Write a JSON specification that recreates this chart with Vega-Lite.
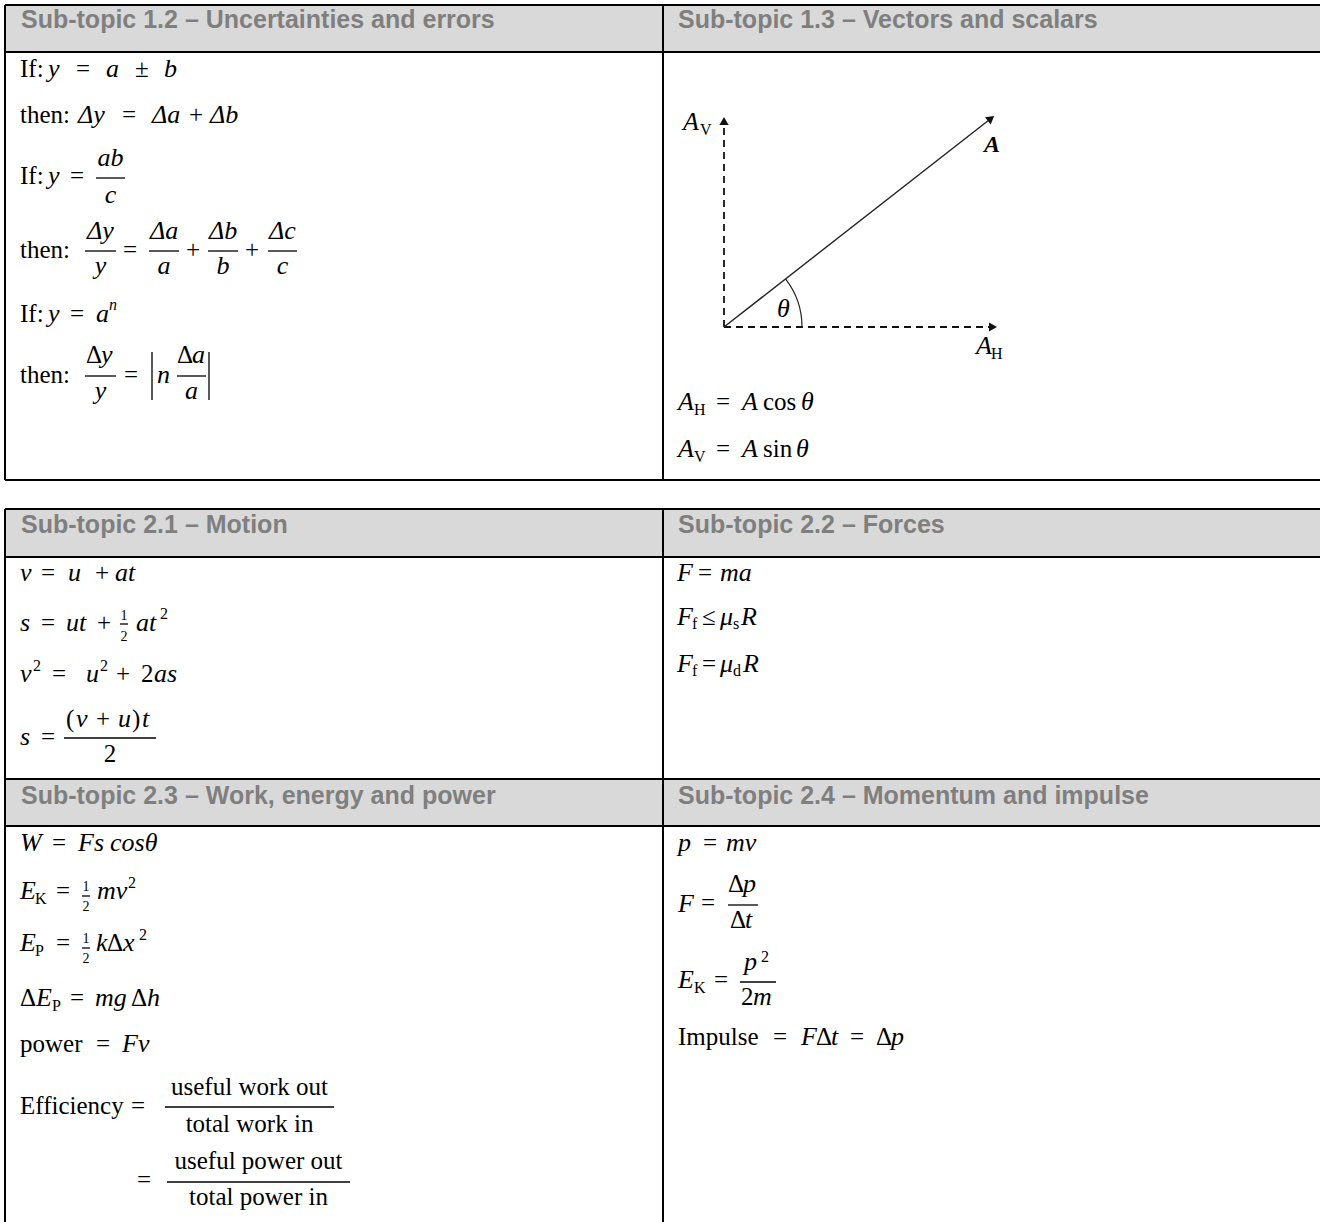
{
  "$schema": "https://vega.github.io/schema/vega-lite/v6.json",
  "width": 1320,
  "height": 1222,
  "autosize": {"type": "none"},
  "padding": 0,
  "background": "white",
  "config": {"view": {"stroke": null}},
  "datasets": {
    "cells": [
      {"x": 5, "x2": 1320, "y": 5, "y2": 52},
      {"x": 5, "x2": 1320, "y": 509, "y2": 557},
      {"x": 5, "x2": 1320, "y": 779, "y2": 826}
    ],
    "borders": [
      {"x": 5, "y": 5, "x2": 1320, "y2": 5},
      {"x": 5, "y": 52, "x2": 1320, "y2": 52},
      {"x": 5, "y": 480, "x2": 1320, "y2": 480},
      {"x": 5, "y": 5, "x2": 5, "y2": 480},
      {"x": 663, "y": 5, "x2": 663, "y2": 480},
      {"x": 5, "y": 509, "x2": 1320, "y2": 509},
      {"x": 5, "y": 557, "x2": 1320, "y2": 557},
      {"x": 5, "y": 779, "x2": 1320, "y2": 779},
      {"x": 5, "y": 826, "x2": 1320, "y2": 826},
      {"x": 5, "y": 509, "x2": 5, "y2": 1222},
      {"x": 663, "y": 509, "x2": 663, "y2": 1222}
    ],
    "bars": [
      {"x": 96, "y": 178, "x2": 125, "y2": 178},
      {"x": 85, "y": 251, "x2": 116, "y2": 251},
      {"x": 149, "y": 251, "x2": 179, "y2": 251},
      {"x": 208, "y": 251, "x2": 238, "y2": 251},
      {"x": 268, "y": 251, "x2": 297, "y2": 251},
      {"x": 85, "y": 376, "x2": 116, "y2": 376},
      {"x": 177, "y": 376, "x2": 206, "y2": 376},
      {"x": 152, "y": 352, "x2": 152, "y2": 400},
      {"x": 209, "y": 352, "x2": 209, "y2": 400},
      {"x": 120, "y": 624, "x2": 128, "y2": 624},
      {"x": 64, "y": 738, "x2": 156, "y2": 738},
      {"x": 82, "y": 896, "x2": 90, "y2": 896},
      {"x": 82, "y": 948, "x2": 90, "y2": 948},
      {"x": 165, "y": 1107, "x2": 334, "y2": 1107},
      {"x": 167, "y": 1182, "x2": 350, "y2": 1182},
      {"x": 728, "y": 905, "x2": 758, "y2": 905},
      {"x": 740, "y": 982, "x2": 776, "y2": 982}
    ],
    "dashes": [
      {"x": 724, "y": 327, "x2": 724, "y2": 124},
      {"x": 724, "y": 327, "x2": 990, "y2": 327}
    ],
    "vector": [
      {"x": 724, "y": 327, "x2": 989, "y2": 120}
    ],
    "heads": [
      {"x": 724, "y": 121, "rot": 0},
      {"x": 993, "y": 327, "rot": 90},
      {"x": 991, "y": 118.5, "rot": 52}
    ],
    "arcs": [
      {"x": 724, "y": 327}
    ],
    "texts": [
      {"x": 21, "y": 28, "t": "Sub-topic 1.2 – Uncertainties and errors", "role": "hdr"},
      {"x": 678, "y": 28, "t": "Sub-topic 1.3 – Vectors and scalars", "role": "hdr"},
      {"x": 21, "y": 533, "t": "Sub-topic 2.1 – Motion", "role": "hdr"},
      {"x": 678, "y": 533, "t": "Sub-topic 2.2 – Forces", "role": "hdr"},
      {"x": 21, "y": 804, "t": "Sub-topic 2.3 – Work, energy and power", "role": "hdr"},
      {"x": 678, "y": 804, "t": "Sub-topic 2.4 – Momentum and impulse", "role": "hdr"},

      {"x": 20, "y": 77, "t": "If:", "role": "rm"},
      {"x": 48, "y": 77, "t": "y", "role": "it"},
      {"x": 76, "y": 77, "t": "=", "role": "rm"},
      {"x": 106, "y": 77, "t": "a", "role": "it"},
      {"x": 135, "y": 77, "t": "±", "role": "rm"},
      {"x": 164, "y": 77, "t": "b", "role": "it"},

      {"x": 20, "y": 123, "t": "then:", "role": "rm"},
      {"x": 78, "y": 123, "t": "Δy", "role": "it"},
      {"x": 122, "y": 123, "t": "=", "role": "rm"},
      {"x": 152, "y": 123, "t": "Δa", "role": "it"},
      {"x": 189, "y": 123, "t": "+", "role": "rm"},
      {"x": 210, "y": 123, "t": "Δb", "role": "it"},

      {"x": 20, "y": 184, "t": "If:", "role": "rm"},
      {"x": 48, "y": 184, "t": "y", "role": "it"},
      {"x": 70, "y": 184, "t": "=", "role": "rm"},
      {"x": 110.5, "y": 166, "t": "ab", "role": "itC"},
      {"x": 110.5, "y": 203, "t": "c", "role": "itC"},

      {"x": 20, "y": 258, "t": "then:", "role": "rm"},
      {"x": 100.5, "y": 239, "t": "Δy", "role": "itC"},
      {"x": 100.5, "y": 274, "t": "y", "role": "itC"},
      {"x": 123, "y": 258, "t": "=", "role": "rm"},
      {"x": 164, "y": 239, "t": "Δa", "role": "itC"},
      {"x": 164, "y": 274, "t": "a", "role": "itC"},
      {"x": 186, "y": 258, "t": "+", "role": "rm"},
      {"x": 223, "y": 239, "t": "Δb", "role": "itC"},
      {"x": 223, "y": 274, "t": "b", "role": "itC"},
      {"x": 245, "y": 258, "t": "+", "role": "rm"},
      {"x": 282.5, "y": 239, "t": "Δc", "role": "itC"},
      {"x": 282.5, "y": 274, "t": "c", "role": "itC"},

      {"x": 20, "y": 322, "t": "If:", "role": "rm"},
      {"x": 48, "y": 322, "t": "y", "role": "it"},
      {"x": 70, "y": 322, "t": "=", "role": "rm"},
      {"x": 96, "y": 322, "t": "a", "role": "it"},
      {"x": 109, "y": 310, "t": "n", "role": "itS"},

      {"x": 20, "y": 383, "t": "then:", "role": "rm"},
      {"x": 86, "y": 363, "t": "Δ", "role": "rm"},
      {"x": 101, "y": 363, "t": "y", "role": "it"},
      {"x": 100.5, "y": 399, "t": "y", "role": "itC"},
      {"x": 124, "y": 383, "t": "=", "role": "rm"},
      {"x": 157, "y": 383, "t": "n", "role": "it"},
      {"x": 177, "y": 363, "t": "Δ", "role": "rm"},
      {"x": 192, "y": 363, "t": "a", "role": "it"},
      {"x": 191.5, "y": 399, "t": "a", "role": "itC"},

      {"x": 683, "y": 130, "t": "A", "role": "it"},
      {"x": 700, "y": 135, "t": "V", "role": "sub"},
      {"x": 984, "y": 152, "t": "A", "role": "bi"},
      {"x": 777, "y": 317, "t": "θ", "role": "it"},
      {"x": 976, "y": 354, "t": "A", "role": "it"},
      {"x": 991, "y": 359, "t": "H", "role": "sub"},

      {"x": 678, "y": 410, "t": "A", "role": "it"},
      {"x": 694, "y": 415, "t": "H", "role": "sub"},
      {"x": 716, "y": 410, "t": "=", "role": "rm"},
      {"x": 742, "y": 410, "t": "A", "role": "it"},
      {"x": 763, "y": 410, "t": "cos", "role": "rm"},
      {"x": 801, "y": 410, "t": "θ", "role": "it"},
      {"x": 678, "y": 457, "t": "A", "role": "it"},
      {"x": 694, "y": 462, "t": "V", "role": "sub"},
      {"x": 716, "y": 457, "t": "=", "role": "rm"},
      {"x": 742, "y": 457, "t": "A", "role": "it"},
      {"x": 763, "y": 457, "t": "sin", "role": "rm"},
      {"x": 796, "y": 457, "t": "θ", "role": "it"},

      {"x": 20, "y": 581, "t": "v", "role": "it"},
      {"x": 41, "y": 581, "t": "=", "role": "rm"},
      {"x": 68, "y": 581, "t": "u", "role": "it"},
      {"x": 95, "y": 581, "t": "+", "role": "rm"},
      {"x": 115, "y": 581, "t": "at", "role": "it"},

      {"x": 20, "y": 631, "t": "s", "role": "it"},
      {"x": 41, "y": 631, "t": "=", "role": "rm"},
      {"x": 66, "y": 631, "t": "ut", "role": "it"},
      {"x": 97, "y": 631, "t": "+", "role": "rm"},
      {"x": 124, "y": 620, "t": "1", "role": "fr"},
      {"x": 124, "y": 641, "t": "2", "role": "fr"},
      {"x": 136, "y": 631, "t": "at", "role": "it"},
      {"x": 160, "y": 619, "t": "2", "role": "sub"},

      {"x": 20, "y": 682, "t": "v", "role": "it"},
      {"x": 33, "y": 671, "t": "2", "role": "sub"},
      {"x": 52, "y": 682, "t": "=", "role": "rm"},
      {"x": 86, "y": 682, "t": "u", "role": "it"},
      {"x": 100, "y": 671, "t": "2", "role": "sub"},
      {"x": 116, "y": 682, "t": "+", "role": "rm"},
      {"x": 141, "y": 682, "t": "2", "role": "rm"},
      {"x": 154, "y": 682, "t": "as", "role": "it"},

      {"x": 20, "y": 745, "t": "s", "role": "it"},
      {"x": 41, "y": 745, "t": "=", "role": "rm"},
      {"x": 66, "y": 727, "t": "(", "role": "rm"},
      {"x": 76, "y": 727, "t": "v", "role": "it"},
      {"x": 96, "y": 727, "t": "+", "role": "rm"},
      {"x": 118, "y": 727, "t": "u", "role": "it"},
      {"x": 132, "y": 727, "t": ")", "role": "rm"},
      {"x": 142, "y": 727, "t": "t", "role": "it"},
      {"x": 110, "y": 762, "t": "2", "role": "rmC"},

      {"x": 677, "y": 581, "t": "F", "role": "it"},
      {"x": 698, "y": 581, "t": "=", "role": "rm"},
      {"x": 720, "y": 581, "t": "ma", "role": "it"},
      {"x": 677, "y": 625, "t": "F", "role": "it"},
      {"x": 692, "y": 629, "t": "f", "role": "sub"},
      {"x": 702, "y": 625, "t": "≤", "role": "rm"},
      {"x": 720, "y": 625, "t": "μ", "role": "it"},
      {"x": 733, "y": 629, "t": "s", "role": "sub"},
      {"x": 741, "y": 625, "t": "R", "role": "it"},
      {"x": 677, "y": 672, "t": "F", "role": "it"},
      {"x": 692, "y": 676, "t": "f", "role": "sub"},
      {"x": 702, "y": 672, "t": "=", "role": "rm"},
      {"x": 720, "y": 672, "t": "μ", "role": "it"},
      {"x": 733, "y": 676, "t": "d", "role": "sub"},
      {"x": 743, "y": 672, "t": "R", "role": "it"},

      {"x": 20, "y": 851, "t": "W", "role": "it"},
      {"x": 52, "y": 851, "t": "=", "role": "rm"},
      {"x": 78, "y": 851, "t": "Fs", "role": "it"},
      {"x": 110, "y": 851, "t": "cosθ", "role": "it"},

      {"x": 20, "y": 899, "t": "E", "role": "it"},
      {"x": 35, "y": 904, "t": "K", "role": "sub"},
      {"x": 56, "y": 899, "t": "=", "role": "rm"},
      {"x": 86, "y": 891, "t": "1", "role": "fr"},
      {"x": 86, "y": 911, "t": "2", "role": "fr"},
      {"x": 97, "y": 899, "t": "mv", "role": "it"},
      {"x": 128, "y": 888, "t": "2", "role": "sub"},

      {"x": 20, "y": 951, "t": "E", "role": "it"},
      {"x": 35, "y": 956, "t": "P", "role": "sub"},
      {"x": 56, "y": 951, "t": "=", "role": "rm"},
      {"x": 86, "y": 943, "t": "1", "role": "fr"},
      {"x": 86, "y": 963, "t": "2", "role": "fr"},
      {"x": 96, "y": 951, "t": "k", "role": "it"},
      {"x": 107, "y": 951, "t": "Δ", "role": "rm"},
      {"x": 123, "y": 951, "t": "x", "role": "it"},
      {"x": 139, "y": 940, "t": "2", "role": "sub"},

      {"x": 20, "y": 1006, "t": "Δ", "role": "rm"},
      {"x": 36, "y": 1006, "t": "E", "role": "it"},
      {"x": 52, "y": 1011, "t": "P", "role": "sub"},
      {"x": 70, "y": 1006, "t": "=", "role": "rm"},
      {"x": 95, "y": 1006, "t": "mg", "role": "it"},
      {"x": 131, "y": 1006, "t": "Δ", "role": "rm"},
      {"x": 147, "y": 1006, "t": "h", "role": "it"},

      {"x": 20, "y": 1052, "t": "power", "role": "rm"},
      {"x": 96, "y": 1052, "t": "=", "role": "rm"},
      {"x": 122, "y": 1052, "t": "Fv", "role": "it"},

      {"x": 20, "y": 1114, "t": "Efficiency", "role": "rm"},
      {"x": 131, "y": 1114, "t": "=", "role": "rm"},
      {"x": 249.5, "y": 1095, "t": "useful work out", "role": "rmC"},
      {"x": 249.5, "y": 1132, "t": "total work in", "role": "rmC"},
      {"x": 137, "y": 1188, "t": "=", "role": "rm"},
      {"x": 258.5, "y": 1169, "t": "useful power out", "role": "rmC"},
      {"x": 258.5, "y": 1205, "t": "total power in", "role": "rmC"},

      {"x": 678, "y": 851, "t": "p", "role": "it"},
      {"x": 703, "y": 851, "t": "=", "role": "rm"},
      {"x": 726, "y": 851, "t": "mv", "role": "it"},

      {"x": 678, "y": 912, "t": "F", "role": "it"},
      {"x": 701, "y": 911, "t": "=", "role": "rm"},
      {"x": 728, "y": 892, "t": "Δ", "role": "rm"},
      {"x": 743, "y": 892, "t": "p", "role": "it"},
      {"x": 730, "y": 928, "t": "Δ", "role": "rm"},
      {"x": 745, "y": 928, "t": "t", "role": "it"},

      {"x": 678, "y": 988, "t": "E", "role": "it"},
      {"x": 694, "y": 993, "t": "K", "role": "sub"},
      {"x": 714, "y": 988, "t": "=", "role": "rm"},
      {"x": 744, "y": 970, "t": "p", "role": "it"},
      {"x": 761, "y": 962, "t": "2", "role": "sub"},
      {"x": 741, "y": 1005, "t": "2", "role": "rm"},
      {"x": 753, "y": 1005, "t": "m", "role": "it"},

      {"x": 678, "y": 1045, "t": "Impulse", "role": "rm"},
      {"x": 773, "y": 1045, "t": "=", "role": "rm"},
      {"x": 801, "y": 1045, "t": "F", "role": "it"},
      {"x": 816, "y": 1045, "t": "Δ", "role": "rm"},
      {"x": 831, "y": 1045, "t": "t", "role": "it"},
      {"x": 850, "y": 1045, "t": "=", "role": "rm"},
      {"x": 876, "y": 1045, "t": "Δ", "role": "rm"},
      {"x": 891, "y": 1045, "t": "p", "role": "it"}
    ]
  },
  "encoding": {
    "x": {"field": "x", "type": "quantitative", "scale": {"domain": [0, 1320], "nice": false, "zero": false}, "axis": null},
    "y": {"field": "y", "type": "quantitative", "scale": {"domain": [0, 1222], "reverse": true, "nice": false, "zero": false}, "axis": null}
  },
  "layer": [
    {
      "data": {"name": "cells"},
      "mark": {"type": "rect", "fill": "#d9d9d9"},
      "encoding": {"x2": {"field": "x2"}, "y2": {"field": "y2"}}
    },
    {
      "data": {"name": "borders"},
      "mark": {"type": "rule", "stroke": "#000000", "strokeWidth": 2},
      "encoding": {"x2": {"field": "x2"}, "y2": {"field": "y2"}}
    },
    {
      "data": {"name": "bars"},
      "mark": {"type": "rule", "stroke": "#000000", "strokeWidth": 1.3},
      "encoding": {"x2": {"field": "x2"}, "y2": {"field": "y2"}}
    },
    {
      "data": {"name": "dashes"},
      "mark": {"type": "rule", "stroke": "#111111", "strokeWidth": 1.8, "strokeDash": [7, 5]},
      "encoding": {"x2": {"field": "x2"}, "y2": {"field": "y2"}}
    },
    {
      "data": {"name": "vector"},
      "mark": {"type": "rule", "stroke": "#222222", "strokeWidth": 1.4},
      "encoding": {"x2": {"field": "x2"}, "y2": {"field": "y2"}}
    },
    {
      "data": {"name": "heads"},
      "mark": {"type": "point", "shape": "triangle-up", "filled": true, "fill": "#111111", "size": 85, "opacity": 1},
      "encoding": {"angle": {"field": "rot", "type": "quantitative", "scale": null}}
    },
    {
      "data": {"name": "arcs"},
      "mark": {"type": "arc", "theta": 0.9076, "theta2": 1.5708, "innerRadius": 78, "outerRadius": 78, "fill": null, "stroke": "#222222", "strokeWidth": 1.2}
    },
    {
      "data": {"name": "texts"},
      "transform": [{"filter": "datum.role === 'hdr'"}],
      "mark": {"type": "text", "align": "left", "baseline": "alphabetic", "font": "Liberation Sans", "fontWeight": "bold", "fontSize": 25, "fill": "#7f7f7f"},
      "encoding": {"text": {"field": "t"}}
    },
    {
      "data": {"name": "texts"},
      "transform": [{"filter": "datum.role === 'rm'"}],
      "mark": {"type": "text", "align": "left", "baseline": "alphabetic", "font": "Liberation Serif", "fontSize": 25, "fill": "#000000"},
      "encoding": {"text": {"field": "t"}}
    },
    {
      "data": {"name": "texts"},
      "transform": [{"filter": "datum.role === 'it'"}],
      "mark": {"type": "text", "align": "left", "baseline": "alphabetic", "font": "Liberation Serif", "fontStyle": "italic", "fontSize": 26, "fill": "#000000"},
      "encoding": {"text": {"field": "t"}}
    },
    {
      "data": {"name": "texts"},
      "transform": [{"filter": "datum.role === 'rmC'"}],
      "mark": {"type": "text", "align": "center", "baseline": "alphabetic", "font": "Liberation Serif", "fontSize": 25, "fill": "#000000"},
      "encoding": {"text": {"field": "t"}}
    },
    {
      "data": {"name": "texts"},
      "transform": [{"filter": "datum.role === 'itC'"}],
      "mark": {"type": "text", "align": "center", "baseline": "alphabetic", "font": "Liberation Serif", "fontStyle": "italic", "fontSize": 26, "fill": "#000000"},
      "encoding": {"text": {"field": "t"}}
    },
    {
      "data": {"name": "texts"},
      "transform": [{"filter": "datum.role === 'sub'"}],
      "mark": {"type": "text", "align": "left", "baseline": "alphabetic", "font": "Liberation Serif", "fontSize": 16, "fill": "#000000"},
      "encoding": {"text": {"field": "t"}}
    },
    {
      "data": {"name": "texts"},
      "transform": [{"filter": "datum.role === 'itS'"}],
      "mark": {"type": "text", "align": "left", "baseline": "alphabetic", "font": "Liberation Serif", "fontStyle": "italic", "fontSize": 16, "fill": "#000000"},
      "encoding": {"text": {"field": "t"}}
    },
    {
      "data": {"name": "texts"},
      "transform": [{"filter": "datum.role === 'fr'"}],
      "mark": {"type": "text", "align": "center", "baseline": "alphabetic", "font": "Liberation Serif", "fontSize": 14, "fill": "#000000"},
      "encoding": {"text": {"field": "t"}}
    },
    {
      "data": {"name": "texts"},
      "transform": [{"filter": "datum.role === 'bi'"}],
      "mark": {"type": "text", "align": "left", "baseline": "alphabetic", "font": "Liberation Serif", "fontStyle": "italic", "fontWeight": "bold", "fontSize": 24, "fill": "#000000"},
      "encoding": {"text": {"field": "t"}}
    }
  ]
}
